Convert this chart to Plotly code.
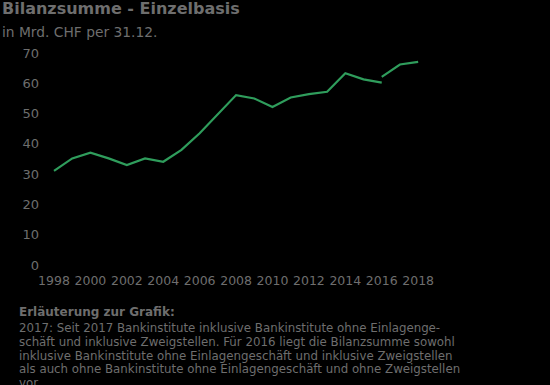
import plotly.graph_objects as go

years_a = [1998, 1999, 2000, 2001, 2002, 2003, 2004, 2005, 2006, 2007, 2008, 2009, 2010, 2011, 2012, 2013, 2014, 2015, 2016]
values_a = [31.1, 35.2, 37.1, 35.2, 33.0, 35.2, 34.1, 38.0, 43.5, 49.8, 56.1, 55.0, 52.2, 55.3, 56.4, 57.2, 63.3, 61.3, 60.2]
years_b = [2016, 2017, 2018]
values_b = [62.1, 66.2, 67.1]

x_ticks = list(range(1998, 2019, 2))
y_ticks = [0, 10, 20, 30, 40, 50, 60, 70]

title = "Bilanzsumme - Einzelbasis"
subtitle = "in Mrd. CHF per 31.12."
note_title = "Erläuterung zur Grafik:"
note_lines = [
    "2017: Seit 2017 Bankinstitute inklusive Bankinstitute ohne Einlagenge-",
    "schäft und inklusive Zweigstellen. Für 2016 liegt die Bilanzsumme sowohl",
    "inklusive Bankinstitute ohne Einlagengeschäft und inklusive Zweigstellen",
    "als auch ohne Bankinstitute ohne Einlagengeschäft und ohne Zweigstellen",
    "vor.",
]

GREEN = "#2f9d5c"
GRAY = "#6e6e6e"
FONT = "DejaVu Sans"

L, R, T, B = 48, 110, 50, 117
W, H = 550, 385

fig = go.Figure()
fig.add_trace(go.Scatter(x=years_a, y=values_a, mode="lines",
                         line=dict(color=GREEN, width=2.2), showlegend=False))
fig.add_trace(go.Scatter(x=years_b, y=values_b, mode="lines",
                         line=dict(color=GREEN, width=2.2), showlegend=False))

fig.update_layout(
    width=W, height=H,
    paper_bgcolor="black", plot_bgcolor="black",
    margin=dict(l=L, r=R, t=T, b=B),
    font=dict(family=FONT, color=GRAY, size=12),
    xaxis=dict(range=[1997.67, 2019.2], tickvals=x_ticks, showgrid=False,
               zeroline=False, showline=False, ticks="", ticklabelstandoff=3,
               tickfont=dict(family=FONT, size=12.5, color=GRAY)),
    yaxis=dict(range=[-1, 71], tickvals=y_ticks, showgrid=False,
               zeroline=False, showline=False, ticks="", ticklabelstandoff=8,
               tickfont=dict(family=FONT, size=13, color=GRAY)),
)

anns = [
    dict(text="<b>" + title + "</b>", x=0, y=9, size=16),
    dict(text=subtitle, x=0, y=32, size=13.8),
    dict(text="<b>" + note_title + "</b>", x=17, y=312, size=12),
]
for i, line in enumerate(note_lines):
    anns.append(dict(text=line, x=17, y=328 + i * 13.8, size=11.8))

for a in anns:
    fig.add_annotation(
        xref="paper", yref="paper",
        x=(a["x"] - L) / (W - L - R),
        y=1 - (a["y"] - T) / (H - T - B),
        xanchor="left", yanchor="middle", showarrow=False, align="left",
        font=dict(family=FONT, color=GRAY, size=a["size"]),
        text=a["text"],
    )

fig.write_html(
    "out.html",
    config={"displayModeBar": False},
    post_script="document.body.style.margin='0';document.body.style.background='black';",
)
